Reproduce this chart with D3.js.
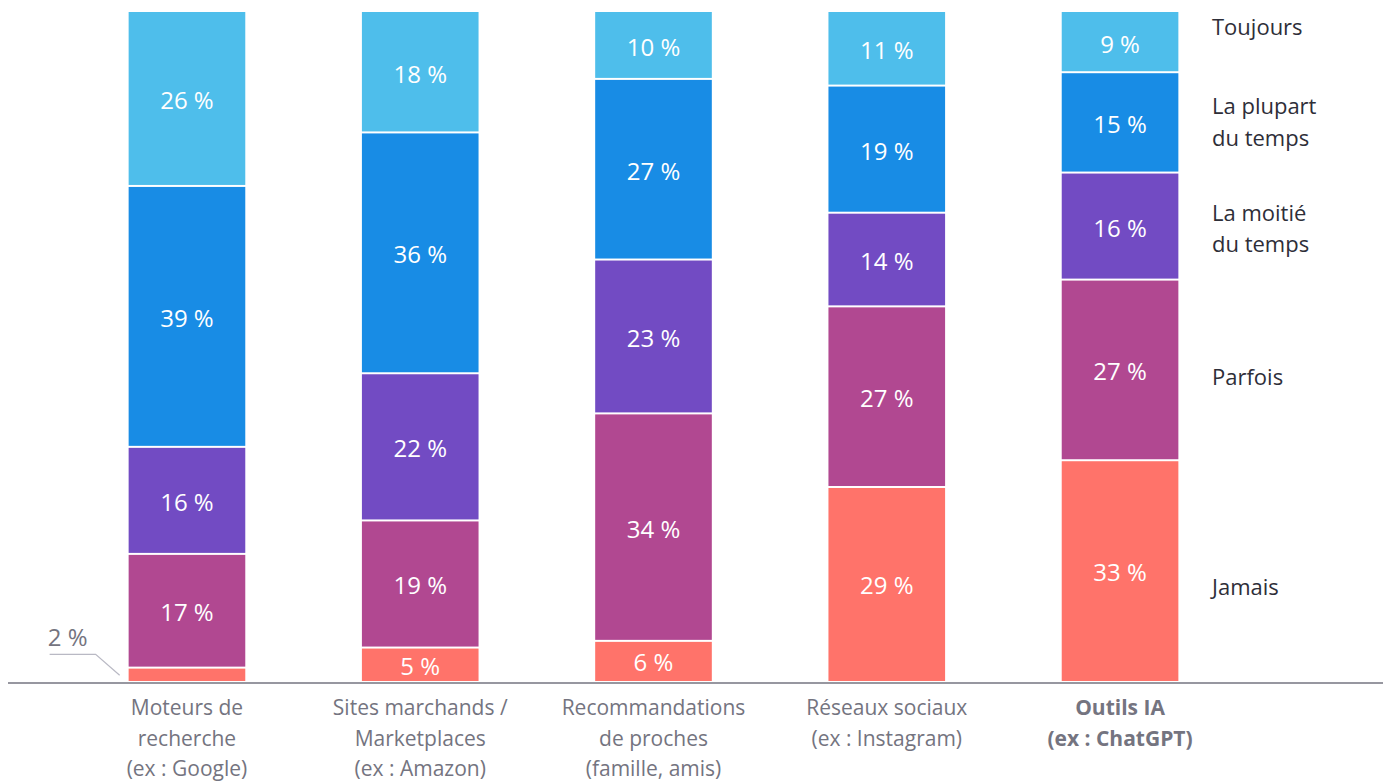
<!DOCTYPE html>
<html>
<head>
<meta charset="utf-8">
<script src="https://cdn.jsdelivr.net/npm/d3@7"></script>
<style>
  html, body { margin: 0; padding: 0; background: #fff; }
  svg { display: block; font-family: "Open Sans", "Noto Sans", sans-serif; }
</style>
</head>
<body>
<svg id="chart" width="1389" height="781"></svg>
<script>
// Categories (source of information), split into display lines
const categories = [
  ["Moteurs de", "recherche", "(ex : Google)"],
  ["Sites marchands /", "Marketplaces", "(ex : Amazon)"],
  ["Recommandations", "de proches", "(famille, amis)"],
  ["Réseaux sociaux", "(ex : Instagram)"],
  ["Outils IA", "(ex : ChatGPT)"]
];
const highlighted = [false, false, false, false, true];

// Frequency series, stacked bottom to top
const seriesNames = ["Jamais", "Parfois", "La moitié du temps", "La plupart du temps", "Toujours"];
const legendLines = [["Jamais"], ["Parfois"], ["La moitié", "du temps"], ["La plupart", "du temps"], ["Toujours"]];
const jamais   = [2, 5, 6, 29, 33];
const parfois  = [17, 19, 34, 27, 27];
const moitie   = [16, 22, 23, 14, 16];
const plupart  = [39, 36, 27, 19, 15];
const toujours = [26, 18, 10, 11, 9];

const colors = ["#FF736A", "#B14891", "#724BC3", "#188CE5", "#4EBEEB"];

const svg = d3.select("#chart");

const rows = categories.map((c, i) => ({
  idx: i,
  s0: jamais[i], s1: parfois[i], s2: moitie[i], s3: plupart[i], s4: toujours[i]
}));
const keys = ["s0", "s1", "s2", "s3", "s4"];
const stacked = d3.stack().keys(keys)(rows);

const x = d3.scaleBand().domain(d3.range(categories.length)).range([12, 1295])
  .paddingInner(0.5).paddingOuter(0.5);
const y = d3.scaleLinear().domain([0, 100]).range([681, 12]);

// Stacked segments with thin white gaps between them
stacked.forEach((layer, li) => {
  const g = svg.append("g");
  layer.forEach((d, i) => {
    const isBottom = li === 0;
    const isTop = li === keys.length - 1;
    const yTop = y(d[1]) + (isTop ? 0 : 1);
    const yBot = y(d[0]) - (isBottom ? 0 : 1);
    g.append("rect")
      .attr("x", x(i))
      .attr("y", yTop)
      .attr("width", x.bandwidth())
      .attr("height", Math.max(0, yBot - yTop))
      .attr("fill", colors[li]);
    const v = d[1] - d[0];
    if (v >= 5) {
      g.append("text")
        .attr("x", x(i) + x.bandwidth() / 2)
        .attr("y", (y(d[0]) + y(d[1])) / 2 + 1)
        .attr("text-anchor", "middle")
        .attr("dominant-baseline", "central")
        .attr("fill", "#ffffff")
        .attr("font-size", 24)
        .text(v + " %");
    }
  });
});

// Small value outside the bar with a leader line
stacked[0].forEach((d, i) => {
  const v = d[1] - d[0];
  if (v < 5) {
    const midY = (y(d[0]) + y(d[1])) / 2;
    const x0 = x(i);
    svg.append("polyline")
      .attr("points", [[x0 - 79, midY - 20], [x0 - 33, midY - 20], [x0 - 9, midY + 1]].map(p => p.join(",")).join(" "))
      .attr("fill", "none")
      .attr("stroke", "#b9b9c4")
      .attr("stroke-width", 1.2);
    svg.append("text")
      .attr("x", x0 - 61)
      .attr("y", midY - 38)
      .attr("text-anchor", "middle")
      .attr("dominant-baseline", "central")
      .attr("fill", "#747480")
      .attr("font-size", 24)
      .text(v + " %");
  }
});

// Baseline
svg.append("line")
  .attr("x1", 8).attr("x2", 1383)
  .attr("y1", 683).attr("y2", 683)
  .attr("stroke", "#747480")
  .attr("stroke-width", 1.5);

// Category labels
categories.forEach((lines, i) => {
  const t = svg.append("text")
    .attr("text-anchor", "middle")
    .attr("fill", "#747480")
    .attr("font-size", 21)
    .attr("font-weight", highlighted[i] ? 700 : 400);
  lines.forEach((ln, k) => {
    t.append("tspan")
      .attr("x", x(i) + x.bandwidth() / 2)
      .attr("y", 707 + k * 30.5)
      .attr("dominant-baseline", "central")
      .text(ln);
  });
});

// Series legend to the right of the last bar
const legendY = [586, 376, 227.5, 121, 26];
const legendX = 1212;
legendLines.forEach((lines, li) => {
  const t = svg.append("text")
    .attr("fill", "#2e2e38")
    .attr("font-size", 22);
  const start = legendY[li] - (lines.length - 1) * 31.5 / 2;
  lines.forEach((ln, k) => {
    t.append("tspan")
      .attr("x", legendX)
      .attr("y", start + k * 31.5)
      .attr("dominant-baseline", "central")
      .text(ln);
  });
});
</script>
</body>
</html>
